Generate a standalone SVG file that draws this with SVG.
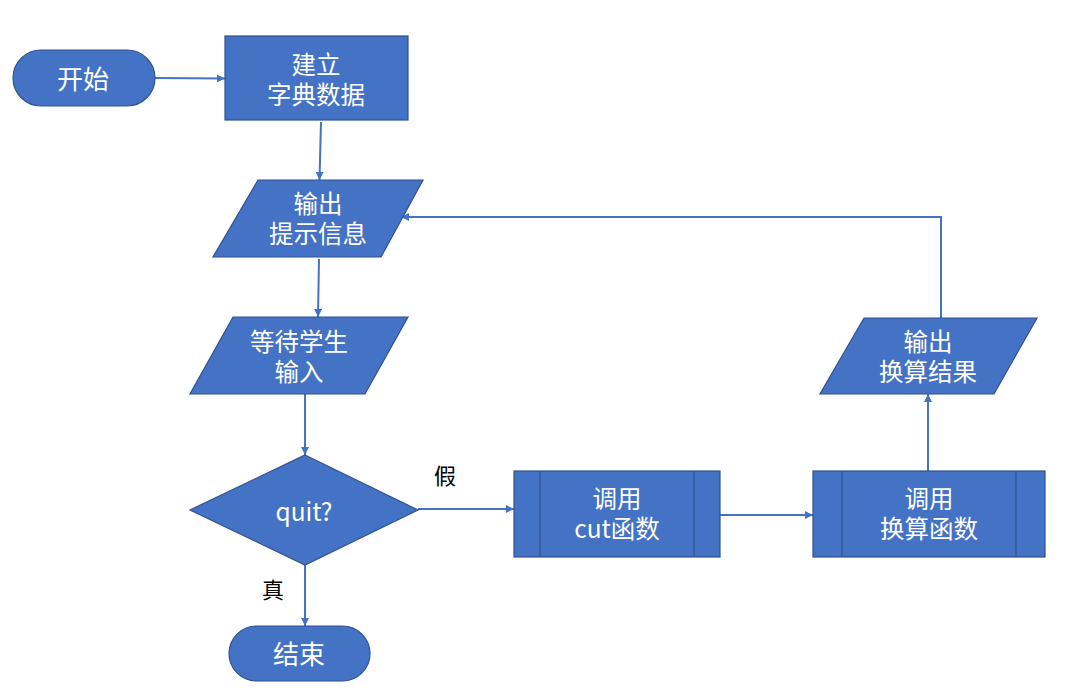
<svg xmlns="http://www.w3.org/2000/svg" width="1072" height="700" viewBox="0 0 1072 700">
<style>
.n{fill:#4472C4;stroke:#2F528F;stroke-width:1.2}
.t{fill:#fff;font-family:"Microsoft YaHei","Noto Sans CJK SC","Noto Sans",sans-serif;font-size:24.5px;text-anchor:middle;dominant-baseline:central}
.b{font-size:26px}
.l{fill:#000;font-family:"Noto Sans CJK SC",sans-serif;font-size:22px;text-anchor:middle;dominant-baseline:central}
.c{fill:none;stroke:#4472C4;stroke-width:2}
.in{fill:none;stroke:#2F528F;stroke-width:1.2}
</style>
<defs>
<marker id="a" viewBox="0 0 10 10" refX="10" refY="5" markerWidth="9" markerHeight="8" markerUnits="userSpaceOnUse" orient="auto">
<path d="M0,0 L10,5 L0,10 z" fill="#4472C4"/>
</marker>
</defs>
<rect width="1072" height="700" fill="#fff"/>
<g id="connectors">
<path class="c" d="M155,78 L225,78.5" marker-end="url(#a)"/>
<path class="c" d="M321,122 L319.5,180" marker-end="url(#a)"/>
<path class="c" d="M319,259 L318,317" marker-end="url(#a)"/>
<path class="c" d="M305,394 L305,455" marker-end="url(#a)"/>
<path class="c" d="M305,565 L305,626" marker-end="url(#a)"/>
<path class="c" d="M418,509 L514,509" marker-end="url(#a)"/>
<path class="c" d="M720,515 L813,515" marker-end="url(#a)"/>
<path class="c" d="M928,471 L928,394" marker-end="url(#a)"/>
<path class="c" d="M941,318 L941,217 L401,217" marker-end="url(#a)"/>
<text class="l" x="445" y="474">假</text>
<text class="l" x="273" y="588">真</text>
</g>
<g id="start">
<rect class="n" x="13" y="50" width="142" height="56" rx="28"/>
<text class="t b" x="83" y="77">开始</text>
</g>
<g id="build">
<rect class="n" x="225" y="36" width="183" height="84"/>
<text class="t" x="316" y="63">建立<tspan x="316" dy="30">字典数据</tspan></text>
</g>
<g id="prompt">
<polygon class="n" points="258,180 423,180 381,257 213,257"/>
<text class="t" x="318" y="202">输出<tspan x="318" dy="30">提示信息</tspan></text>
</g>
<g id="wait">
<polygon class="n" points="233,317 408,317 365,394 190,394"/>
<text class="t" x="299" y="340">等待学生<tspan x="299" dy="30">输入</tspan></text>
</g>
<g id="quit">
<polygon class="n" points="305,455 418,510 305,565 190,510"/>
<text class="t" x="304" y="510">quit?</text>
</g>
<g id="end">
<rect class="n" x="229" y="626" width="141" height="55" rx="27.5"/>
<text class="t b" x="299" y="652">结束</text>
</g>
<g id="cut">
<rect class="n" x="514" y="471" width="206" height="86"/>
<line class="in" x1="540" y1="471" x2="540" y2="557"/>
<line class="in" x1="694" y1="471" x2="694" y2="557"/>
<text class="t" x="617" y="497">调用<tspan x="617" dy="30">cut函数</tspan></text>
</g>
<g id="convert">
<rect class="n" x="813" y="471" width="232" height="86"/>
<line class="in" x1="842" y1="471" x2="842" y2="557"/>
<line class="in" x1="1016" y1="471" x2="1016" y2="557"/>
<text class="t" x="929" y="497">调用<tspan x="929" dy="30">换算函数</tspan></text>
</g>
<g id="result">
<polygon class="n" points="864,318 1037,318 994,394 820,394"/>
<text class="t" x="928" y="340">输出<tspan x="928" dy="30">换算结果</tspan></text>
</g>
</svg>
